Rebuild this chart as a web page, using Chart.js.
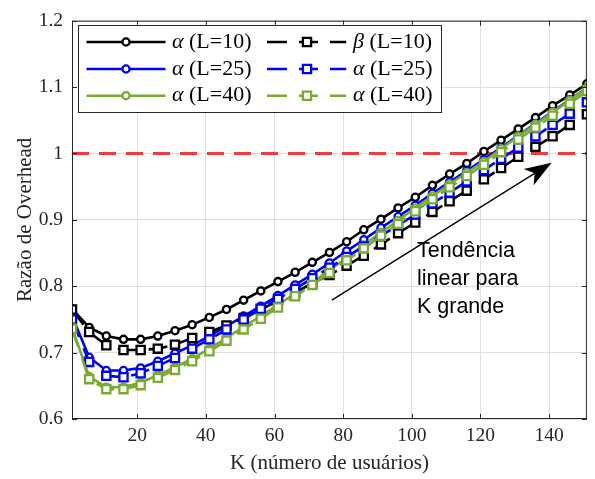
<!DOCTYPE html>
<html>
<head>
<meta charset="utf-8">
<script src="https://cdn.jsdelivr.net/npm/chart.js@4.4.1/dist/chart.umd.min.js"></script>
<style>
  html, body { margin: 0; padding: 0; background: #fff; }
  #wrap { width: 595px; height: 479px; }
</style>
</head>
<body>
<div id="wrap"><canvas id="overheadChart"></canvas></div>
<script>
// K values (number of users)
const kUsers = [1, 6, 11, 16, 21, 26, 31, 36, 41, 46, 51, 56, 61, 66, 71, 76,
  81, 86, 91, 96, 101, 106, 111, 116, 121, 126, 131, 136, 141, 146, 151];

const alphaL10 = [0.766, 0.738, 0.725, 0.720, 0.720, 0.725, 0.733, 0.742, 0.753, 0.765, 0.779,
  0.793, 0.807, 0.821, 0.836, 0.851, 0.867, 0.885, 0.901, 0.918, 0.934, 0.952, 0.969, 0.985,
  1.003, 1.020, 1.037, 1.054, 1.072, 1.088, 1.105];
const alphaL25 = [0.755, 0.693, 0.673, 0.673, 0.677, 0.687, 0.699, 0.711, 0.725, 0.740, 0.755,
  0.770, 0.786, 0.802, 0.818, 0.835, 0.853, 0.870, 0.888, 0.905, 0.922, 0.940, 0.957, 0.974,
  0.991, 1.009, 1.027, 1.045, 1.063, 1.081, 1.099];
const alphaL40 = [0.738, 0.664, 0.648, 0.648, 0.655, 0.666, 0.678, 0.691, 0.706, 0.722, 0.739,
  0.755, 0.772, 0.789, 0.806, 0.824, 0.843, 0.862, 0.881, 0.899, 0.918, 0.936, 0.954, 0.971,
  0.988, 1.007, 1.026, 1.044, 1.062, 1.080, 1.099];
const betaL10 = [0.765, 0.731, 0.711, 0.704, 0.704, 0.706, 0.712, 0.722, 0.731, 0.741, 0.752,
  0.765, 0.778, 0.791, 0.804, 0.817, 0.831, 0.846, 0.863, 0.880, 0.896, 0.912, 0.928, 0.944,
  0.961, 0.978, 0.995, 1.010, 1.026, 1.043, 1.059];
const alphaL25dash = [0.750, 0.686, 0.665, 0.663, 0.669, 0.680, 0.692, 0.706, 0.720, 0.735, 0.750,
  0.766, 0.781, 0.796, 0.812, 0.828, 0.844, 0.860, 0.876, 0.892, 0.908, 0.925, 0.941, 0.958,
  0.975, 0.992, 1.009, 1.026, 1.043, 1.060, 1.077];
const alphaL40dash = [0.736, 0.660, 0.645, 0.645, 0.651, 0.662, 0.674, 0.687, 0.702, 0.718, 0.735,
  0.751, 0.768, 0.785, 0.802, 0.820, 0.839, 0.857, 0.876, 0.894, 0.913, 0.931, 0.949, 0.966,
  0.983, 1.002, 1.021, 1.039, 1.057, 1.075, 1.094];

// reference line (ratio = 1)
const refK = [1, 151];
const refRatio = [1, 1];

const xTicks = [20, 40, 60, 80, 100, 120, 140];
const yTicks = [0.6, 0.7, 0.8, 0.9, 1.0, 1.1, 1.2];

const legendNames = [
  ['α', ' (L=10)'], ['α', ' (L=25)'], ['α', ' (L=40)'],
  ['β', ' (L=10)'], ['α', ' (L=25)'], ['α', ' (L=40)']
];
const noteLines = ['Tendência', 'linear para', 'K grande'];

const BLACK = '#000000', BLUE = '#0000ff', GREEN = '#77ac30', RED = 'rgb(240,60,60)';
const TXT = '#262626';
const SERIF = '"Liberation Serif", "Times New Roman", serif';
const SANS = '"Liberation Sans", Arial, sans-serif';
const DASH = [19, 12];
const CIRCLE_R = 3.6, RECT_R = 5.8, MARK_W = 2.3;

function series(name, vals, color, dashed, marker, order) {
  return {
    label: name,
    data: kUsers.map((k, i) => ({ x: k, y: vals[i] })),
    borderColor: color,
    backgroundColor: '#fff',
    borderWidth: 2.6,
    borderDash: dashed ? DASH : [],
    pointStyle: marker,
    pointRadius: marker === 'circle' ? CIRCLE_R : RECT_R,
    pointBorderWidth: MARK_W,
    pointBackgroundColor: '#fff',
    pointBorderColor: color,
    tension: 0,
    order: order
  };
}

const datasets = [
  series('a10', alphaL10, BLACK, false, 'circle', 10),
  series('a25', alphaL25, BLUE, false, 'circle', 9),
  series('a40', alphaL40, GREEN, false, 'circle', 8),
  series('b10', betaL10, BLACK, true, 'rect', 7),
  series('a25d', alphaL25dash, BLUE, true, 'rect', 6),
  series('a40d', alphaL40dash, GREEN, true, 'rect', 5),
  {
    label: 'ref',
    data: refK.map((k, i) => ({ x: k, y: refRatio[i] })),
    borderColor: RED, borderWidth: 3, borderDash: [17, 10],
    pointRadius: 0, order: 20
  }
];
const legendStyles = [
  [BLACK, false, 'circle'], [BLUE, false, 'circle'], [GREEN, false, 'circle'],
  [BLACK, true, 'rect'], [BLUE, true, 'rect'], [GREEN, true, 'rect']
];

function drawMarker(ctx, x, y, style, color) {
  ctx.save();
  ctx.setLineDash([]);
  ctx.lineWidth = MARK_W;
  ctx.strokeStyle = color;
  ctx.fillStyle = '#fff';
  ctx.beginPath();
  if (style === 'circle') ctx.arc(x, y, CIRCLE_R, 0, Math.PI * 2);
  else {
    const h = RECT_R * Math.SQRT1_2;
    ctx.rect(x - h, y - h, 2 * h, 2 * h);
  }
  ctx.fill();
  ctx.stroke();
  ctx.restore();
}

const overlay = {
  id: 'overlay',
  afterDraw(chart) {
    const { ctx, chartArea: a, scales: { x, y } } = chart;
    ctx.save();

    // axes box with inward ticks
    ctx.strokeStyle = TXT;
    ctx.lineWidth = 1;
    ctx.strokeRect(a.left + 0.5, a.top + 0.5, a.right - a.left - 1, a.bottom - a.top - 1);
    ctx.beginPath();
    xTicks.forEach(v => {
      const px = Math.round(x.getPixelForValue(v)) + 0.5;
      ctx.moveTo(px, a.bottom); ctx.lineTo(px, a.bottom - 5);
      ctx.moveTo(px, a.top); ctx.lineTo(px, a.top + 5);
    });
    yTicks.forEach(v => {
      const py = Math.round(y.getPixelForValue(v)) + 0.5;
      ctx.moveTo(a.left, py); ctx.lineTo(a.left + 5, py);
      ctx.moveTo(a.right, py); ctx.lineTo(a.right - 5, py);
    });
    ctx.stroke();

    // trend arrow
    const x0 = x.getPixelForValue(76.7), y0 = y.getPixelForValue(0.779);
    const x1 = x.getPixelForValue(140.7), y1 = y.getPixelForValue(0.986);
    const len = Math.hypot(x1 - x0, y1 - y0);
    const ux = (x1 - x0) / len, uy = (y1 - y0) / len;
    const px = -uy, py = ux;
    const headLen = 27, headHalf = 9.5, notch = 20;
    ctx.strokeStyle = '#000';
    ctx.lineWidth = 1.3;
    ctx.beginPath();
    ctx.moveTo(x0, y0);
    ctx.lineTo(x1 - ux * notch, y1 - uy * notch);
    ctx.stroke();
    ctx.fillStyle = '#000';
    ctx.beginPath();
    ctx.moveTo(x1, y1);
    ctx.lineTo(x1 - ux * headLen + px * headHalf, y1 - uy * headLen + py * headHalf);
    ctx.lineTo(x1 - ux * notch, y1 - uy * notch);
    ctx.lineTo(x1 - ux * headLen - px * headHalf, y1 - uy * headLen - py * headHalf);
    ctx.closePath();
    ctx.fill();

    // trend note
    ctx.font = '21.5px ' + SANS;
    ctx.fillStyle = '#000';
    ctx.textAlign = 'left';
    ctx.textBaseline = 'alphabetic';
    const tx = x.getPixelForValue(101.5), ty = y.getPixelForValue(0.8441);
    noteLines.forEach((t, i) => ctx.fillText(t, tx, ty + i * 28));

    // legend box
    const bx = a.left + 5.5, by = a.top + 4, bw = 363, bh = 87;
    ctx.fillStyle = '#fff';
    ctx.fillRect(bx, by, bw, bh);
    ctx.strokeStyle = TXT;
    ctx.lineWidth = 1;
    ctx.strokeRect(Math.round(bx) + 0.5, Math.round(by) + 0.5, bw, bh);
    const cols = [{ l0: 9, l1: 88, m: 48.5, t: 94.5 }, { l0: 189.5, l1: 268.7, m: 229.5, t: 275.5 }];
    const rows = [17.3, 44.3, 71];
    legendStyles.forEach((st, i) => {
      const c = cols[Math.floor(i / 3)];
      const ry = by + rows[i % 3];
      const [color, dashed, marker] = st;
      ctx.strokeStyle = color;
      ctx.lineWidth = 2.6;
      ctx.setLineDash(dashed ? [20, 12, 19, 12] : []);
      ctx.beginPath();
      ctx.moveTo(bx + c.l0, ry);
      ctx.lineTo(bx + c.l1, ry);
      ctx.stroke();
      ctx.setLineDash([]);
      drawMarker(ctx, bx + c.m, ry, marker, color);
      const [greek, rest] = legendNames[i];
      ctx.fillStyle = '#000';
      ctx.textBaseline = 'middle';
      ctx.font = 'italic 22px ' + SERIF;
      ctx.fillText(greek, bx + c.t, ry);
      const gw = ctx.measureText(greek).width;
      ctx.font = '22px ' + SERIF;
      ctx.fillText(rest, bx + c.t + gw, ry);
    });

    ctx.restore();
  }
};

const ctx = document.getElementById('overheadChart').getContext('2d');
new Chart(ctx, {
  type: 'line',
  data: { datasets: datasets },
  options: {
    responsive: true,
    maintainAspectRatio: false,
    animation: false,
    layout: { padding: { top: 11, right: 7, left: 0, bottom: 0 } },
    plugins: {
      legend: { display: false },
      tooltip: { enabled: false }
    },
    scales: {
      x: {
        type: 'linear',
        min: 1,
        max: 151,
        afterBuildTicks: s => { s.ticks = xTicks.map(v => ({ value: v })); },
        afterFit: s => { s.height = 60; },
        ticks: {
          autoSkip: false, maxRotation: 0, padding: 5,
          font: { family: SERIF, size: 19.5 }, color: TXT
        },
        grid: { color: '#dfdfdf', drawTicks: false },
        border: { display: false },
        title: {
          display: true, text: 'K (número de usuários)', color: TXT,
          font: { family: SERIF, size: 21 }, padding: { top: 0, bottom: 3.4 }
        }
      },
      y: {
        min: 0.6,
        max: 1.2,
        afterBuildTicks: s => { s.ticks = yTicks.map(v => ({ value: v })); },
        afterFit: s => { s.width = 72; },
        ticks: {
          padding: 9,
          callback: v => String(Math.round(v * 10) / 10),
          font: { family: SERIF, size: 19.5 }, color: TXT
        },
        grid: { color: '#dfdfdf', drawTicks: false },
        border: { display: false },
        title: {
          display: true, text: 'Razão de Overhead', color: TXT,
          font: { family: SERIF, size: 21 }, padding: { top: 12.4, bottom: 0 }
        }
      }
    }
  },
  plugins: [overlay]
});
</script>
</body>
</html>
